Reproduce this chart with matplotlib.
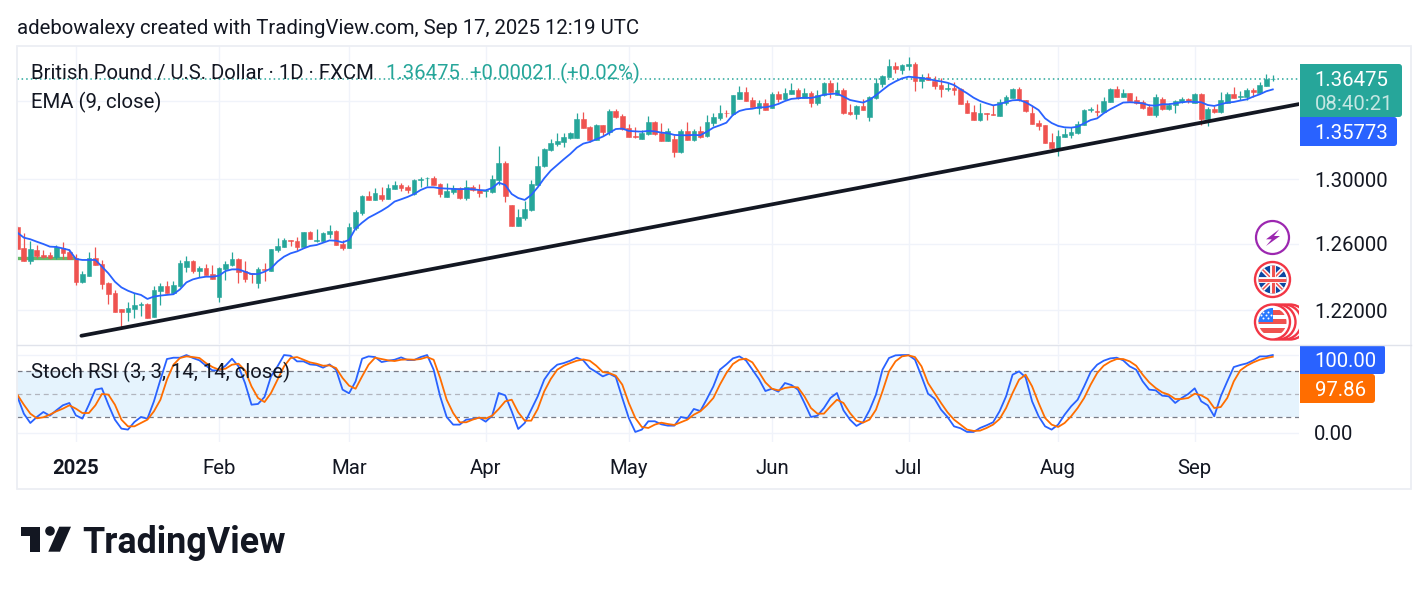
import matplotlib
matplotlib.use("Agg")
import matplotlib.pyplot as plt
from matplotlib.patches import Circle, FancyBboxPatch, Polygon, Rectangle
import numpy as np

plt.rcParams["font.family"] = ["Roboto", "DejaVu Sans"]

# daily GBPUSD candles
opens = [
    1.2704,1.2572,1.2496,1.2560,1.2528,1.2530,1.2516,1.2572,1.2548,1.2512,
    1.2367,1.2403,1.2512,1.2476,1.2361,1.2302,1.2207,1.2189,1.2207,1.2230,
    1.2236,1.2159,1.2313,1.2343,1.2300,1.2343,1.2457,1.2494,1.2433,1.2451,
    1.2415,1.2278,1.2445,1.2470,1.2506,1.2433,1.2421,1.2361,1.2445,1.2433,
    1.2560,1.2581,1.2622,1.2615,1.2579,1.2671,1.2615,1.2615,1.2659,1.2677,
    1.2597,1.2572,1.2695,1.2788,1.2894,1.2869,1.2900,1.2875,1.2938,1.2963,
    1.2950,1.2906,1.2994,1.3005,1.3007,1.2967,1.2888,1.2919,1.2944,1.2881,
    1.2950,1.2931,1.2923,1.2919,1.2994,1.3102,1.2838,1.2708,1.2757,1.2807,
    1.2963,1.3083,1.3184,1.3223,1.3236,1.3262,1.3262,1.3384,1.3332,1.3249,
    1.3345,1.3300,1.3436,1.3403,1.3326,1.3274,1.3255,1.3287,1.3365,1.3294,
    1.3242,1.3255,1.3171,1.3307,1.3249,1.3307,1.3274,1.3358,1.3390,1.3425,
    1.3416,1.3515,1.3560,1.3508,1.3456,1.3488,1.3456,1.3547,1.3515,1.3547,
    1.3573,1.3521,1.3554,1.3488,1.3541,1.3619,1.3541,1.3573,1.3430,1.3417,
    1.3469,1.3397,1.3521,1.3613,1.3659,1.3732,1.3706,1.3735,1.3746,1.3633,
    1.3659,1.3633,1.3606,1.3580,1.3586,1.3580,1.3488,1.3430,1.3377,1.3423,
    1.3417,1.3403,1.3488,1.3521,1.3580,1.3508,1.3421,1.3358,1.3345,1.3234,
    1.3195,1.3268,1.3281,1.3294,1.3347,1.3442,1.3436,1.3430,1.3495,1.3580,
    1.3528,1.3554,1.3508,1.3495,1.3462,1.3410,1.3515,1.3449,1.3475,1.3495,
    1.3515,1.3488,1.3547,1.3384,1.3449,1.3430,1.3488,1.3547,1.3528,1.3528,
    1.3573,1.3554,1.3600,1.3645,
]
highs = [
    1.2708,1.2667,1.2617,1.2589,1.2560,1.2550,1.2589,1.2609,1.2564,1.2536,
    1.2435,1.2548,1.2581,1.2500,1.2369,1.2319,1.2207,1.2248,1.2300,1.2250,
    1.2242,1.2343,1.2363,1.2373,1.2373,1.2500,1.2524,1.2500,1.2464,1.2476,
    1.2470,1.2457,1.2496,1.2548,1.2512,1.2496,1.2421,1.2459,1.2480,1.2566,
    1.2632,1.2634,1.2622,1.2642,1.2671,1.2677,1.2687,1.2673,1.2714,1.2683,
    1.2622,1.2724,1.2807,1.2900,1.2923,1.2942,1.2950,1.2969,1.2986,1.2977,
    1.2963,1.3000,1.3013,1.3013,1.3019,1.2975,1.2973,1.2963,1.2950,1.2994,
    1.2963,1.2969,1.2936,1.3024,1.3210,1.3114,1.2838,1.2813,1.2863,1.2994,
    1.3146,1.3197,1.3255,1.3292,1.3292,1.3300,1.3423,1.3430,1.3339,1.3352,
    1.3345,1.3447,1.3449,1.3416,1.3352,1.3332,1.3313,1.3403,1.3371,1.3360,
    1.3326,1.3281,1.3319,1.3365,1.3319,1.3339,1.3410,1.3421,1.3475,1.3442,
    1.3541,1.3600,1.3593,1.3528,1.3508,1.3515,1.3563,1.3567,1.3584,1.3619,
    1.3586,1.3586,1.3567,1.3573,1.3626,1.3639,1.3626,1.3586,1.3482,1.3475,
    1.3515,1.3534,1.3652,1.3672,1.3779,1.3759,1.3746,1.3792,1.3759,1.3679,
    1.3686,1.3666,1.3652,1.3619,1.3626,1.3586,1.3508,1.3475,1.3488,1.3423,
    1.3475,1.3515,1.3541,1.3586,1.3593,1.3508,1.3469,1.3377,1.3345,1.3294,
    1.3313,1.3324,1.3332,1.3371,1.3449,1.3462,1.3480,1.3528,1.3586,1.3600,
    1.3580,1.3554,1.3534,1.3508,1.3482,1.3547,1.3528,1.3488,1.3508,1.3528,
    1.3521,1.3554,1.3554,1.3462,1.3469,1.3560,1.3560,1.3593,1.3567,1.3586,
    1.3586,1.3626,1.3679,1.3670,
]
lows = [
    1.2564,1.2496,1.2478,1.2510,1.2510,1.2504,1.2504,1.2504,1.2504,1.2349,
    1.2359,1.2403,1.2472,1.2323,1.2236,1.2189,1.2099,1.2136,1.2153,1.2163,
    1.2153,1.2159,1.2230,1.2300,1.2296,1.2339,1.2427,1.2419,1.2399,1.2407,
    1.2385,1.2250,1.2379,1.2464,1.2363,1.2369,1.2363,1.2331,1.2373,1.2433,
    1.2548,1.2581,1.2585,1.2560,1.2579,1.2628,1.2609,1.2609,1.2634,1.2591,
    1.2560,1.2572,1.2683,1.2775,1.2869,1.2869,1.2863,1.2875,1.2938,1.2927,
    1.2913,1.2900,1.2950,1.2956,1.2963,1.2888,1.2888,1.2906,1.2875,1.2869,
    1.2925,1.2888,1.2888,1.2913,1.2963,1.2857,1.2708,1.2708,1.2745,1.2800,
    1.2963,1.3076,1.3178,1.3212,1.3203,1.3257,1.3262,1.3326,1.3236,1.3249,
    1.3274,1.3281,1.3390,1.3313,1.3266,1.3262,1.3255,1.3281,1.3281,1.3242,
    1.3242,1.3140,1.3165,1.3249,1.3244,1.3259,1.3268,1.3339,1.3377,1.3399,
    1.3410,1.3515,1.3501,1.3460,1.3417,1.3442,1.3456,1.3495,1.3508,1.3547,
    1.3515,1.3521,1.3462,1.3475,1.3534,1.3521,1.3541,1.3417,1.3410,1.3384,
    1.3442,1.3371,1.3515,1.3595,1.3659,1.3686,1.3679,1.3706,1.3567,1.3586,
    1.3639,1.3580,1.3528,1.3567,1.3541,1.3482,1.3423,1.3377,1.3371,1.3377,
    1.3410,1.3403,1.3475,1.3519,1.3501,1.3427,1.3352,1.3313,1.3227,1.3190,
    1.3146,1.3266,1.3264,1.3287,1.3345,1.3430,1.3403,1.3430,1.3495,1.3528,
    1.3528,1.3501,1.3482,1.3449,1.3410,1.3399,1.3442,1.3442,1.3423,1.3486,
    1.3488,1.3488,1.3347,1.3339,1.3423,1.3423,1.3488,1.3521,1.3508,1.3508,
    1.3528,1.3554,1.3600,1.3630,
]
closes = [
    1.2566,1.2496,1.2566,1.2524,1.2520,1.2512,1.2576,1.2544,1.2508,1.2367,
    1.2415,1.2512,1.2472,1.2355,1.2296,1.2189,1.2189,1.2212,1.2230,1.2236,
    1.2153,1.2319,1.2343,1.2300,1.2349,1.2482,1.2494,1.2433,1.2451,1.2409,
    1.2385,1.2451,1.2476,1.2506,1.2427,1.2385,1.2417,1.2445,1.2439,1.2566,
    1.2585,1.2622,1.2614,1.2579,1.2671,1.2628,1.2622,1.2665,1.2677,1.2591,
    1.2572,1.2701,1.2794,1.2894,1.2869,1.2913,1.2875,1.2944,1.2963,1.2944,
    1.2931,1.2994,1.3000,1.3007,1.2963,1.2906,1.2925,1.2942,1.2881,1.2950,
    1.2931,1.2913,1.2931,1.2998,1.3102,1.2894,1.2708,1.2763,1.2813,1.2969,
    1.3083,1.3190,1.3229,1.3242,1.3268,1.3294,1.3384,1.3326,1.3249,1.3345,
    1.3300,1.3436,1.3397,1.3317,1.3268,1.3268,1.3294,1.3365,1.3287,1.3242,
    1.3307,1.3171,1.3307,1.3249,1.3307,1.3268,1.3365,1.3397,1.3423,1.3421,
    1.3541,1.3560,1.3501,1.3462,1.3488,1.3442,1.3547,1.3515,1.3554,1.3573,
    1.3521,1.3554,1.3488,1.3541,1.3619,1.3560,1.3573,1.3423,1.3417,1.3469,
    1.3442,1.3528,1.3619,1.3666,1.3732,1.3712,1.3739,1.3746,1.3633,1.3659,
    1.3639,1.3600,1.3580,1.3586,1.3573,1.3482,1.3423,1.3377,1.3423,1.3419,
    1.3412,1.3495,1.3528,1.3580,1.3506,1.3436,1.3352,1.3339,1.3229,1.3195,
    1.3274,1.3287,1.3300,1.3352,1.3442,1.3449,1.3430,1.3501,1.3580,1.3528,
    1.3554,1.3501,1.3488,1.3456,1.3410,1.3528,1.3449,1.3475,1.3501,1.3515,
    1.3501,1.3547,1.3384,1.3449,1.3430,1.3508,1.3547,1.3521,1.3534,1.3573,
    1.3558,1.3606,1.36454,1.36475,
]
ema9 = [
    1.2667,1.2636,1.2626,1.2611,1.2597,1.2581,1.2579,1.2570,1.2560,1.2506,
    1.2500,1.2500,1.2500,1.2460,1.2419,1.2369,1.2335,1.2315,1.2300,1.2290,
    1.2266,1.2280,1.2286,1.2290,1.2294,1.2323,1.2365,1.2383,1.2393,1.2399,
    1.2399,1.2405,1.2433,1.2443,1.2443,1.2429,1.2415,1.2415,1.2429,1.2449,
    1.2490,1.2520,1.2540,1.2552,1.2570,1.2585,1.2591,1.2605,1.2619,1.2617,
    1.2607,1.2622,1.2693,1.2728,1.2759,1.2780,1.2802,1.2827,1.2859,1.2873,
    1.2888,1.2906,1.2931,1.2948,1.2948,1.2942,1.2940,1.2938,1.2936,1.2938,
    1.2936,1.2931,1.2929,1.2944,1.2977,1.2963,1.2906,1.2881,1.2869,1.2900,
    1.2948,1.3005,1.3053,1.3089,1.3125,1.3159,1.3199,1.3225,1.3236,1.3253,
    1.3270,1.3294,1.3319,1.3322,1.3307,1.3304,1.3302,1.3307,1.3304,1.3296,
    1.3292,1.3281,1.3279,1.3279,1.3281,1.3279,1.3302,1.3328,1.3343,1.3360,
    1.3410,1.3436,1.3447,1.3451,1.3460,1.3460,1.3469,1.3482,1.3501,1.3515,
    1.3519,1.3523,1.3521,1.3530,1.3543,1.3547,1.3550,1.3530,1.3508,1.3499,
    1.3491,1.3508,1.3539,1.3573,1.3606,1.3630,1.3650,1.3661,1.3657,1.3652,
    1.3646,1.3637,1.3630,1.3621,1.3606,1.3578,1.3552,1.3523,1.3501,1.3486,
    1.3473,1.3480,1.3495,1.3506,1.3508,1.3493,1.3469,1.3442,1.3388,1.3358,
    1.3339,1.3330,1.3328,1.3334,1.3356,1.3377,1.3388,1.3421,1.3447,1.3469,
    1.3491,1.3493,1.3491,1.3486,1.3473,1.3471,1.3480,1.3480,1.3486,1.3493,
    1.3497,1.3495,1.3493,1.3475,1.3469,1.3480,1.3491,1.3495,1.3504,1.3512,
    1.3530,1.3545,1.3565,1.35773,
]
stoch_k = [
    47.0,24.8,12.8,20.5,26.9,22.2,29.1,35.5,38.5,22.6,
    18.4,36.3,55.6,57.3,36.3,17.1,5.6,4.3,14.1,20.5,
    18.4,40.6,68.4,94.9,96.6,96.6,100,96.2,93.2,86.3,
    80.3,80.3,86.3,95.3,85.5,64.1,36.3,37.2,46.2,72.6,
    85.5,100,99.1,91.9,91.9,88.0,87.2,83.8,88.0,81.2,
    55.6,50.9,66.2,95.3,98.3,97.4,91.0,92.7,94.0,97.0,
    93.6,93.6,97.4,100,81.2,47.0,20.5,10.7,10.7,17.1,
    17.9,19.7,14.5,22.2,51.3,48.3,27.8,5.1,12.8,29.9,
    47.0,68.4,80.3,87.6,89.7,92.7,96.6,93.2,83.3,78.2,
    72.6,76.1,71.8,44.9,19.2,1.3,4.3,15.0,15.0,11.1,
    9.4,9.4,20.5,18.8,30.8,28.2,43.6,59.8,81.2,88.0,
    95.7,98.3,93.2,81.2,69.2,53.8,56.8,53.0,64.1,61.5,
    55.6,38.5,20.5,22.2,32.0,44.9,51.3,29.1,17.1,9.0,
    13.7,29.1,49.2,81.2,96.2,99.6,100,100,94.0,72.6,
    50.4,44.0,29.9,20.5,8.5,6.0,1.3,1.3,6.4,9.8,
    13.7,27.8,47.0,74.8,79.0,71.4,40.6,21.4,8.5,4.3,
    10.7,23.5,34.2,42.7,59.8,78.2,87.6,92.7,95.7,96.6,
    93.2,85.5,81.2,66.2,55.6,54.7,47.9,47.0,38.5,44.9,
    50.0,57.3,40.6,35.5,21.4,47.0,66.2,84.6,87.2,89.3,
    93.2,98.3,98.3,100.0,
]
stoch_d = [
    49.2,36.3,24.8,18.8,20.1,23.5,27.8,31.2,35.5,31.2,
    25.6,25.6,35.5,50.0,49.2,36.3,17.1,8.5,8.5,12.8,
    17.1,27.8,42.7,68.4,87.6,96.2,98.3,97.4,96.2,89.7,
    84.6,81.2,82.5,87.6,88.9,80.3,59.8,44.9,39.7,51.3,
    68.4,85.5,96.2,97.4,94.0,90.6,88.9,86.3,86.7,83.3,
    70.5,60.7,56.8,72.6,87.6,96.6,94.9,93.2,92.3,94.0,
    94.4,94.0,94.9,97.4,94.0,70.5,42.7,25.6,13.7,13.7,
    17.1,19.7,18.4,22.2,30.8,40.6,42.7,26.5,15.8,15.8,
    30.8,53.4,69.2,81.2,86.3,89.7,92.7,94.4,92.7,86.3,
    78.2,76.9,73.5,62.0,38.5,19.2,7.7,6.4,10.7,13.2,
    11.5,10.3,13.7,17.1,23.5,27.8,35.5,44.9,62.0,76.9,
    88.5,94.0,95.3,90.6,78.2,64.9,56.8,54.7,57.7,59.0,
    58.5,47.0,32.0,24.8,24.8,34.2,42.7,38.5,25.6,15.8,
    13.2,17.1,29.9,53.4,79.0,91.9,98.3,99.6,97.4,85.5,
    64.1,51.3,38.5,26.5,17.1,10.7,4.3,2.6,3.0,6.4,
    10.7,17.9,32.0,51.3,68.4,74.8,59.8,38.5,19.2,10.7,
    7.7,12.8,21.4,32.0,44.9,62.0,76.9,86.3,91.5,94.9,
    94.9,91.9,86.3,74.8,64.9,57.7,52.1,49.2,43.6,43.6,
    44.9,50.4,48.3,43.6,32.0,33.3,44.9,66.2,80.3,86.3,
    90.6,94.0,96.2,97.86,
]

month_bars = [9, 31, 51, 72, 94, 116, 137, 160, 181]
month_labels = ["2025", "Feb", "Mar", "Apr", "May", "Jun", "Jul", "Aug", "Sep"]
price_ticks = [1.22, 1.26, 1.30, 1.35]
price_labels = ["1.22000", "1.26000", "1.30000", ""]

# hand drawn trend line and horizontal level, as (bar, price)
trend_bars = [9.85, 197.03]
trend_prices = [1.2049, 1.3481]
level_bars = [-0.05, 8.9]
level_prices = [1.2511, 1.2511]

UP = "#26a69a"
DOWN = "#ef5350"
BLUE = "#2962ff"
ORANGE = "#ff6d00"
TEXT = "#131722"
GRID = "#f0f3fa"
FS = 14.7

W, H = 1428, 591
fig = plt.figure(figsize=(W / 100, H / 100), dpi=100, facecolor="white")

x = np.arange(len(closes))
o, h, l, c = map(np.array, (opens, highs, lows, closes))
col = np.where(c >= o, UP, DOWN)

# price pane
ax = fig.add_axes([17 / W, 1 - 344 / H, 1282 / W, 298 / H])
ax.set_yscale("log")
ax.set_xlim(-0.05, 197.03)
ax.set_ylim(1.2001, 1.3866)
ax.vlines(month_bars, 1.2, 1.39, color=GRID, lw=1, zorder=0)
ax.hlines(price_ticks, -1, 198, color=GRID, lw=1, zorder=0)
ax.axhline(closes[-1], color=UP, ls=(0, (1, 2)), lw=1.1, zorder=1)
ax.plot(level_bars, level_prices, color="#66bb6a", lw=2.4, zorder=1.5, solid_capstyle="butt")
ax.vlines(x, l, h, color=col, lw=0.9, zorder=2)
ax.bar(x, c - o, bottom=o, width=0.72, color=col, edgecolor=col, lw=0.4, zorder=2.5)
ax.plot(x, ema9, color=BLUE, lw=1.3, zorder=3)
ax.plot(trend_bars, trend_prices, color="#131722", lw=2.7, zorder=4, solid_capstyle="round")
ax.yaxis.tick_right()
ax.set_yticks(price_ticks, price_labels)
ax.minorticks_off()
ax.set_xticks([])
ax.tick_params(axis="y", length=0, pad=11, labelsize=FS, labelcolor=TEXT)
for s in ax.spines.values():
    s.set_visible(False)

# stochastic pane
ax2 = fig.add_axes([17 / W, 1 - 442 / H, 1282 / W, 97 / H])
ax2.set_xlim(-0.05, 197.03)
ax2.set_ylim(-11.6, 112.9)
ax2.vlines(month_bars, -20, 120, color=GRID, lw=1, zorder=0)
ax2.hlines([0, 100], -1, 198, color=GRID, lw=1, zorder=0)
ax2.axhspan(20, 80, color="#e5f3fd", lw=0, zorder=0.5)
ax2.axhline(80, color="#787b86", ls=(0, (4, 3)), lw=0.9, zorder=1)
ax2.axhline(50, color="#b2b5be", ls=(0, (4, 3)), lw=0.9, zorder=1)
ax2.axhline(20, color="#787b86", ls=(0, (4, 3)), lw=0.9, zorder=1)
ax2.plot(x, stoch_k, color=BLUE, lw=1.3, zorder=2)
ax2.plot(x, stoch_d, color=ORANGE, lw=1.3, zorder=3)
ax2.yaxis.tick_right()
ax2.set_yticks([0], ["0.00"])
ax2.set_xticks(month_bars, month_labels)
ax2.tick_params(axis="y", length=0, pad=11, labelsize=FS, labelcolor=TEXT)
ax2.tick_params(axis="x", length=0, pad=12.2, labelsize=FS, labelcolor=TEXT)
ax2.get_xticklabels()[0].set_fontweight("bold")
for s in ax2.spines.values():
    s.set_visible(False)

# overlay in pixel coordinates: frame, titles, price tags, icons, logo
ov = fig.add_axes([0, 0, 1, 1], zorder=10)
ov.set_xlim(0, W)
ov.set_ylim(H, 0)
ov.axis("off")
ov.patch.set_alpha(0)

ov.add_patch(Rectangle((16.5, 45.5), 1394, 443, fill=False, ec="#eceef3", lw=1.3))
ov.plot([17, 1411], [344.5, 344.5], color="#e0e3eb", lw=1)

ov.text(17, 28, "adebowalexy created with TradingView.com, Sep 17, 2025 12:19 UTC",
        fontsize=FS, color=TEXT, va="center")
ov.text(31, 73.5, "British Pound / U.S. Dollar · 1D · FXCM", fontsize=FS, color=TEXT, va="center")
ov.text(386, 73.5, "1.36475  +0.00021 (+0.02%)", fontsize=FS, color=UP, va="center")
ov.text(31, 102.5, "EMA (9, close)", fontsize=FS, color=TEXT, va="center")
ov.text(31, 372.5, "Stoch RSI (3, 3, 14, 14, close)", fontsize=FS, color=TEXT, va="center")


def tag(x0, x1, y0, y1, color):
    # flat on the pane side, rounded on the outer side
    ov.add_patch(FancyBboxPatch((x0 + 4, y0), x1 - x0 - 4, y1 - y0, boxstyle="round,pad=0,rounding_size=3",
                                fc=color, ec="none", mutation_aspect=1))
    ov.add_patch(Rectangle((x0, y0), 8, y1 - y0, fc=color, ec="none"))


tag(1300, 1402, 64, 117, UP)
tag(1300, 1397, 117, 146, BLUE)
tag(1300, 1385, 345, 374, BLUE)
tag(1300, 1375, 374, 403, ORANGE)
ov.text(1314.5, 80.5, "1.36475", fontsize=FS, color="white", va="center")
ov.text(1314.5, 104.5, "08:40:21", fontsize=FS, color="#c4e6e2", va="center")
ov.text(1314.5, 133.5, "1.35773", fontsize=FS, color="white", va="center")
ov.text(1314.5, 361.5, "100.00", fontsize=FS, color="white", va="center")
ov.text(1314.5, 390.5, "97.86", fontsize=FS, color="white", va="center")

# lightning badge
ov.add_patch(Circle((1272.5, 237.5), 16.5, fc="white", ec="#9c27b0", lw=1.6))
ov.add_patch(Polygon([(1279.3, 229.3), (1266, 239.3), (1271.7, 239.3), (1266, 246), (1280, 236),
                      (1274, 236)], fc="#9c27b0", ec="none"))


def badge(cx, cy):
    ov.add_patch(Circle((cx, cy), 17.5, fc="white", ec="#f23645", lw=1.7))
    return Circle((cx, cy), 14, transform=ov.transData)


# UK flag
clip = badge(1272.5, 279.5)
ov.add_patch(Circle((1272.5, 279.5), 14, fc="#0d47a1", ec="none"))
for dx in (-1, 1):
    line, = ov.plot([1272.5 - 14 * dx, 1272.5 + 14 * dx], [265.5, 293.5], color="white", lw=3.2)
    line.set_clip_path(clip)
    line, = ov.plot([1272.5 - 14 * dx, 1272.5 + 14 * dx], [265.5, 293.5], color="#ef5350", lw=1.1)
    line.set_clip_path(clip)
for pts in (([1272.5, 1272.5], [265, 294]), ([1258, 1287], [279.5, 279.5])):
    line, = ov.plot(*pts, color="white", lw=4.2)
    line.set_clip_path(clip)
    line, = ov.plot(*pts, color="#ef5350", lw=2.2)
    line.set_clip_path(clip)

# US flag, with the stacked badges behind it cut at the pane edge
for cx in (1290, 1284, 1278):
    ring = Circle((cx, 322), 17.5, fc="white", ec="#f23645", lw=1.7)
    ov.add_patch(ring)
    ring.set_clip_path(Rectangle((1250, 300), 49, 45, transform=ov.transData))
clip = badge(1272.5, 322)
ov.add_patch(Circle((1272.5, 322), 14, fc="white", ec="none"))
for yy in (310, 319, 328):
    s = Rectangle((1258, yy), 29, 5, fc="#ef5350", ec="none")
    ov.add_patch(s)
    s.set_clip_path(clip)
s = Rectangle((1258, 308), 15, 14, fc="#2979ff", ec="none")
ov.add_patch(s)
s.set_clip_path(clip)
ov.scatter([1263, 1268, 1261, 1266, 1271, 1263, 1268], [312, 312, 315, 315, 315, 318, 318], s=2, c="white", lw=0)

# logo
ov.add_patch(Polygon([(20.7, 526.7), (40, 526.7), (40, 551.7), (30, 551.7), (30, 536), (20.7, 536)],
                     fc="#131722", ec="none"))
ov.add_patch(Circle((50, 531), 4.8, fc="#131722", ec="none"))
ov.add_patch(Polygon([(59.3, 526.7), (71, 526.7), (60, 551.7), (48.3, 551.7)], fc="#131722", ec="none"))
ov.text(82.5, 543, "TradingView", fontsize=25.8, fontweight="bold", family=["Roboto"],
        color="#131722", va="center")

fig.savefig("out.png", dpi=100)
